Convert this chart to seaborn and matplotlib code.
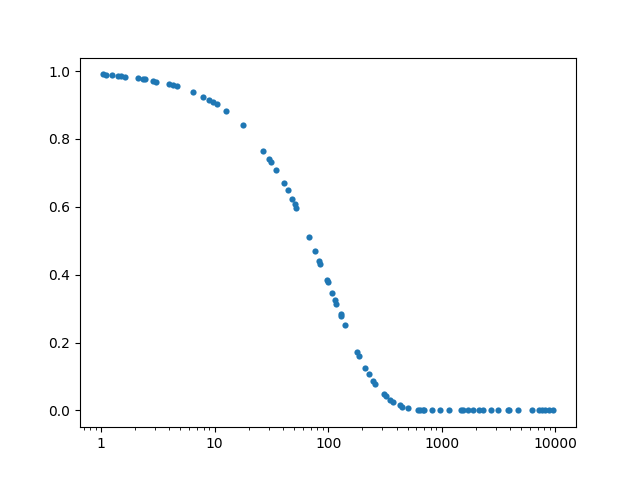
import numpy as np
import pandas as pd
import matplotlib
matplotlib.use('Agg')
import matplotlib.pyplot as plt
import matplotlib.ticker as mticker
import seaborn as sns

# values
x_vals = [1.03, 1.11, 1.24, 1.42, 1.50, 1.63, 2.12, 2.32, 2.45, 2.84, 3.04,
          3.98, 4.32, 4.62, 6.49, 7.96, 8.86, 9.75, 10.4, 12.6, 17.7,
          26.9, 30.0, 31.3, 34.9, 40.7, 44.2, 47.9, 50.9, 52.4,
          67.7, 76.5, 83.0, 85.3, 97.6, 99.6, 108, 115, 117, 129, 131, 141,
          179, 186, 211, 229, 247, 257, 309, 324, 349, 373, 428, 446, 507,
          620, 650, 680, 705, 830, 966, 1150, 1470, 1550, 1717, 1900, 2150, 2300,
          2740, 3140, 3800, 3950, 4700, 6270, 7250, 7600, 8100, 8900, 9650]
y_vals = [0.990, 0.988, 0.988, 0.985, 0.984, 0.981, 0.978, 0.975, 0.975, 0.971, 0.968,
          0.962, 0.958, 0.955, 0.937, 0.922, 0.914, 0.908, 0.902, 0.881, 0.840,
          0.763, 0.742, 0.733, 0.707, 0.670, 0.648, 0.624, 0.607, 0.597,
          0.510, 0.471, 0.440, 0.432, 0.383, 0.377, 0.347, 0.326, 0.314, 0.283, 0.277, 0.251,
          0.171, 0.160, 0.124, 0.106, 0.087, 0.078, 0.047, 0.041, 0.030, 0.024, 0.015, 0.011, 0.006,
          0.002, 0.0015, 0.001, 0.001, 0.0, 0.0, 0.0, 0.0, 0.0, 0.0, 0.0, 0.0, 0.0,
          0.0, 0.0, 0.0, 0.0, 0.0, 0.0, 0.0, 0.0, 0.0, 0.0, 0.0]

df = pd.DataFrame({'x': x_vals, 'y': y_vals})

fig, ax = plt.subplots(figsize=(6.4, 4.8), dpi=100)
sns.scatterplot(data=df, x='x', y='y', ax=ax, s=20, linewidth=0, color='#1f77b4')
ax.set_xscale('log')
ax.xaxis.set_major_formatter(mticker.FuncFormatter(lambda v, p: '%g' % v))
ax.set_xlabel('')
ax.set_ylabel('')
fig.savefig('out.png', dpi=100)
